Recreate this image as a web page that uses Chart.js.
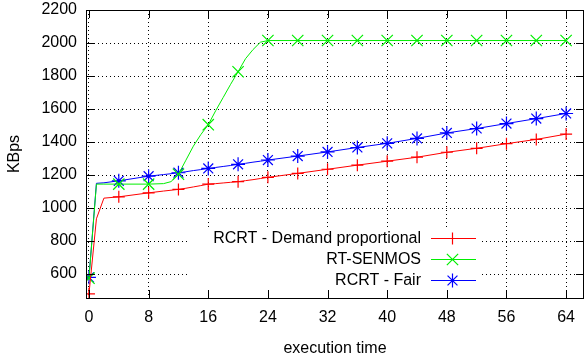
<!DOCTYPE html>
<html>
<head>
<meta charset="utf-8">
<script src="https://cdn.jsdelivr.net/npm/chart.js@4/dist/chart.umd.min.js"></script>
<style>
  html, body { margin: 0; padding: 0; background: #fff; }
  #wrap { width: 585px; height: 364px; }
</style>
</head>
<body>
<div id="wrap"><canvas id="perfChart" width="585" height="364"></canvas></div>
<script>
// execution time samples (markers only every 4 units)
const xs = [0, 1, 2, 4, 8, 10, 11, 12, 13, 14, 15, 16, 17, 18, 19, 20, 21, 22, 23, 24, 28, 32, 36, 40, 44, 48, 52, 56, 60, 64];

const demandProp = [480, 935, 1060, 1068, 1092, 1103, 1108, 1113, 1120, 1128, 1136, 1145, 1148, 1152, 1156, 1160, 1166, 1172, 1179, 1186, 1210, 1235, 1260, 1284, 1308, 1338, 1362, 1390, 1416, 1448];
const rtSenmos = [575, 1145, 1145, 1145, 1145, 1148, 1160, 1205, 1290, 1375, 1445, 1505, 1590, 1670, 1750, 1826, 1905, 1960, 2005, 2015, 2015, 2015, 2015, 2015, 2015, 2015, 2015, 2015, 2015, 2015];
const fair = [580, 1150, 1153, 1165, 1193, 1203, 1208, 1214, 1220, 1227, 1233, 1240, 1246, 1252, 1258, 1265, 1271, 1278, 1284, 1291, 1315, 1340, 1367, 1392, 1422, 1455, 1482, 1512, 1542, 1573];

const seriesNames = ['RCRT - Demand proportional', 'RT-SENMOS', 'RCRT - Fair'];
const xTicks = [0, 8, 16, 24, 32, 40, 48, 56, 64];
const yTicks = [600, 800, 1000, 1200, 1400, 1600, 1800, 2000, 2200];

const FONT = 'Liberation Sans, Arial, Helvetica, sans-serif';

function pts(ys) {
    return xs.map((x, i) => ({ x: x, y: ys[i] }));
}

function makeSet(label, ys, color, style, size) {
    return {
        label: label,
        data: pts(ys),
        borderColor: color,
        backgroundColor: color,
        borderWidth: 1,
        pointStyle: style,
        markSize: size,
        // gnuplot pointinterval: a marker every 4 time units
        pointRadius: ctx => (xs[ctx.dataIndex] % 4 === 0 ? size : 0),
        pointBorderWidth: 1.2,
        pointBorderColor: color,
        tension: 0,
        fill: false
    };
}

const datasets = [
    makeSet(seriesNames[0], demandProp, '#ff0000', 'cross', 6),
    makeSet(seriesNames[1], rtSenmos, '#00ee00', 'crossRot', 8),
    makeSet(seriesNames[2], fair, '#0000ff', 'star', 7)
];

// gnuplot-like frame, inward ticks and the key in the lower middle
const framePlugin = {
    id: 'frame',
    beforeDatasetsDraw(chart) {
        const ctx = chart.ctx;
        const a = chart.chartArea;
        // white key box hides the grid behind the legend
        ctx.save();
        ctx.fillStyle = '#fff';
        ctx.fillRect(189, 229, 292, a.bottom - 229);
        ctx.restore();
    },
    afterDraw(chart) {
        const ctx = chart.ctx;
        const a = chart.chartArea;
        const sx = chart.scales.x, sy = chart.scales.y;
        ctx.save();
        ctx.strokeStyle = '#000';
        ctx.lineWidth = 1;
        ctx.strokeRect(Math.round(a.left) + 0.5, Math.round(a.top) + 0.5,
            Math.round(a.right - a.left) - 1, Math.round(a.bottom - a.top));
        ctx.beginPath();
        xTicks.forEach(v => {
            const px = Math.round(sx.getPixelForValue(v)) + 0.5;
            ctx.moveTo(px, a.bottom); ctx.lineTo(px, a.bottom - 8);
            ctx.moveTo(px, a.top); ctx.lineTo(px, a.top + 8);
        });
        yTicks.forEach(v => {
            const py = Math.round(sy.getPixelForValue(v)) + 0.5;
            ctx.moveTo(a.left, py); ctx.lineTo(a.left + 8, py);
            ctx.moveTo(a.right, py); ctx.lineTo(a.right - 8, py);
        });
        ctx.stroke();

        // key
        ctx.font = '16px ' + FONT;
        ctx.textAlign = 'right';
        ctx.textBaseline = 'middle';
        const rows = [238, 259, 280];
        datasets.forEach((ds, i) => {
            const y = rows[i];
            ctx.fillStyle = '#000';
            ctx.fillText(ds.label, 421, y + 1);
            ctx.strokeStyle = ds.borderColor;
            ctx.fillStyle = ds.borderColor;
            ctx.lineWidth = 1.2;
            ctx.beginPath();
            ctx.moveTo(431, y + 0.5);
            ctx.lineTo(476, y + 0.5);
            ctx.stroke();
            Chart.helpers.drawPoint(ctx, {
                pointStyle: ds.pointStyle, radius: ds.markSize, borderWidth: 1.2, rotation: 0
            }, 452.5, y + 0.5);
        });
        ctx.restore();
    }
};

new Chart(document.getElementById('perfChart'), {
    type: 'line',
    data: { datasets: datasets },
    options: {
        responsive: false,
        animation: false,
        layout: { autoPadding: false, padding: { left: 5, right: 1, top: 10, bottom: 0 } },
        plugins: {
            legend: { display: false },
            tooltip: { enabled: false }
        },
        scales: {
            x: {
                type: 'linear',
                min: -0.4,
                max: 66.4,
                afterBuildTicks: s => { s.ticks = xTicks.map(v => ({ value: v })); },
                afterFit: s => { s.height = 66; s.paddingLeft = 0; s.paddingRight = 0; },
                grid: { color: '#000', lineWidth: 1, drawTicks: false },
                border: { display: false, dash: [1, 3] },
                ticks: {
                    color: '#000',
                    padding: 10,
                    maxRotation: 0,
                    font: { family: FONT, size: 16 },
                    callback: v => String(v)
                },
                title: {
                    display: true,
                    text: 'execution time',
                    color: '#000',
                    padding: { top: 0, bottom: 6 },
                    font: { family: FONT, size: 16 }
                }
            },
            y: {
                min: 455,
                max: 2200,
                afterBuildTicks: s => { s.ticks = yTicks.map(v => ({ value: v })); },
                afterFit: s => { s.width = 81; s.paddingTop = 0; s.paddingBottom = 0; },
                grid: { color: '#000', lineWidth: 1, drawTicks: false },
                border: { display: false, dash: [1, 3] },
                ticks: {
                    color: '#000',
                    padding: 9,
                    font: { family: FONT, size: 16 },
                    callback: v => String(v)
                },
                title: {
                    display: true,
                    text: 'KBps',
                    color: '#000',
                    padding: 0,
                    font: { family: FONT, size: 16 }
                }
            }
        }
    },
    plugins: [framePlugin]
});
</script>
</body>
</html>
